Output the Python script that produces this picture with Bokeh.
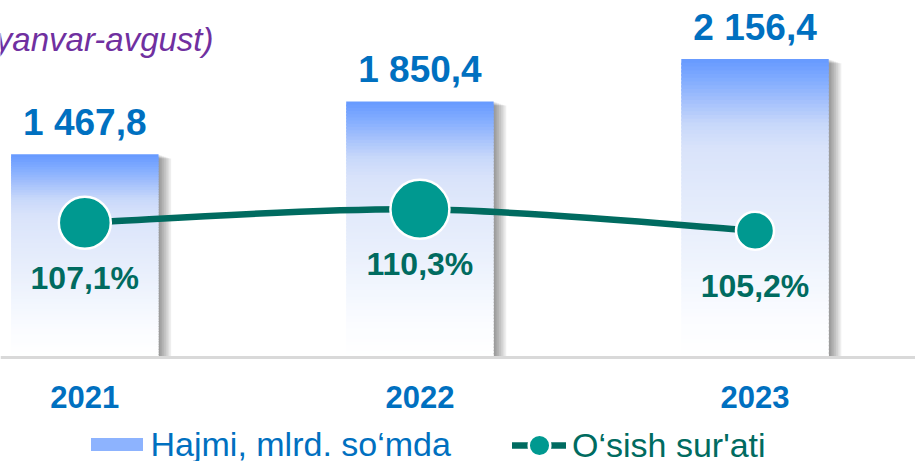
import numpy as np
from bokeh.plotting import figure
from bokeh.models import Range1d, ColumnDataSource, Span, Label, Legend, LegendItem
from bokeh.core.properties import value
from bokeh.embed import file_html
from bokeh.resources import INLINE

# ---------------- data ----------------
years = ["2021", "2022", "2023"]
volume = [1467.8, 1850.4, 2156.4]      # Hajmi, mlrd. so'mda
growth = [107.1, 110.3, 105.2]         # O'sish sur'ati, %
title_text = "(yanvar-avgust)"
legend_volume = "Hajmi, mlrd. so‘mda"
legend_growth = "O‘sish sur'ati"

# ---------------- style ----------------
FONT = "Liberation Sans"
BLUE = "#0070C0"
TEAL_DARK = "#006B60"
TEAL = "#009990"
PURPLE = "#7030A0"

W, H = 915, 461
X0, X1 = -0.2516, 2.4789
Y0, Y1 = -751.4, 2579.5
P0, P1 = 50.27, 160.03
px_x = W / (X1 - X0)
px_y = H / (Y1 - Y0)
BAR_W = 0.44
marker_sizes = [52, 59, 38]

xs = list(range(len(years)))

p = figure(width=W, height=H, x_range=Range1d(X0, X1), y_range=Range1d(Y0, Y1),
           output_backend="svg", toolbar_location=None, min_border=0,
           x_axis_location=None, y_axis_location=None, outline_line_color=None,
           background_fill_color="white", border_fill_color="white")
p.grid.visible = False
p.extra_y_ranges = {"pct": Range1d(P0, P1)}

# shadows (layered offsets to the right)
sh_x, sh_top = [], []
for k in range(1, 8):
    for x, v in zip(xs, volume):
        sh_x.append(x + k * 1.8 / px_x)
        sh_top.append(v - k * 0.6 / px_y)
p.vbar(x=sh_x, top=sh_top, bottom=0, width=BAR_W, fill_color="black",
       fill_alpha=0.065, line_color=None)

# gradient bars (slices)
stops_f = [0, .06, .14, .22, .30, .45, .60, .75, .87, 1.0]
stops_c = [(102, 153, 255), (125, 169, 255), (163, 192, 252), (200, 216, 250),
           (217, 227, 250), (226, 234, 251), (234, 240, 252), (243, 247, 254),
           (251, 252, 255), (255, 255, 255)]
N = 80
gx, gtop, gbot, gcol = [], [], [], []
for x, v in zip(xs, volume):
    for i in range(N):
        f0, f1 = i / N, (i + 1) / N
        fm = (f0 + f1) / 2
        rgb = [int(round(np.interp(fm, stops_f, [c[j] for c in stops_c]))) for j in range(3)]
        gx.append(x)
        gtop.append(v * (1 - f0))
        gbot.append(max(0.0, v * (1 - f1) - v / N * 0.6))
        gcol.append("#%02x%02x%02x" % tuple(rgb))
gsrc = ColumnDataSource(dict(x=gx, top=gtop, bottom=gbot, color=gcol))
bars = p.vbar(x="x", top="top", bottom="bottom", width=BAR_W, fill_color="color",
              line_color=None, source=gsrc)

p.add_layout(Span(location=0, dimension="width", line_color="#D9D9D9", line_width=3))

# smooth growth line (Catmull-Rom -> cubic Bezier)
P = np.array([[x, g] for x, g in zip(xs, growth)], dtype=float)
n = len(P)
T = np.array([(P[min(i + 1, n - 1)] - P[max(i - 1, 0)]) / 2 for i in range(n)])
line_r = p.bezier(x0=P[:-1, 0], y0=P[:-1, 1], x1=P[1:, 0], y1=P[1:, 1],
                  cx0=P[:-1, 0] + T[:-1, 0] / 3, cy0=P[:-1, 1] + T[:-1, 1] / 3,
                  cx1=P[1:, 0] - T[1:, 0] / 3, cy1=P[1:, 1] - T[1:, 1] / 3,
                  line_color=TEAL_DARK, line_width=6.5, line_cap="round",
                  y_range_name="pct")

msrc = ColumnDataSource(dict(x=xs, y=growth, size=marker_sizes))
pts = p.scatter("x", "y", size="size", source=msrc, fill_color=TEAL,
                line_color="white", line_width=2.5, y_range_name="pct")

# labels
vlabels = [f"{v:,.1f}".replace(",", " ").replace(".", ",") for v in volume]
p.text(x=xs, y=volume, text=vlabels, text_font=value(FONT), text_font_style="bold",
       text_font_size="37px", text_color=BLUE, text_align="center",
       text_baseline="alphabetic", y_offset=-32)

p.text(x=xs, y=0, text=years, text_font=value(FONT), text_font_style="bold",
       text_font_size="31px", text_color=BLUE, text_align="center",
       text_baseline="alphabetic", y_offset=39)

plabels = [f"{g:.1f}%".replace(".", ",") for g in growth]
p.text(x=xs, y=growth, text=plabels, text_font=value(FONT), text_font_style="bold",
       text_font_size="32px", text_color=TEAL_DARK, text_align="center",
       text_baseline="alphabetic", y_offset=55, y_range_name="pct")

p.add_layout(Label(x=213, y=H - 39.3, x_units="screen", y_units="screen",
                   text=title_text, text_align="right", text_baseline="alphabetic",
                   text_font=FONT, text_font_style="italic", text_font_size="33px",
                   text_color=PURPLE))

common = dict(orientation="horizontal", padding=0, margin=0, spacing=0,
              border_line_color=None, background_fill_alpha=0,
              label_text_font=FONT, label_text_font_size="34px", label_height=42)
leg1 = Legend(items=[LegendItem(label=legend_volume, renderers=[bars], index=7)],
              location=(83.5, -4), glyph_width=65, glyph_height=16,
              label_standoff=2, label_text_color=BLUE, **common)
leg2 = Legend(items=[LegendItem(label=legend_growth, renderers=[line_r, pts])],
              location=(512, -14), glyph_width=54, glyph_height=60,
              label_standoff=6, label_text_color=TEAL_DARK, **common)
p.add_layout(leg1)
p.add_layout(leg2)

open("out.html", "w").write(file_html(p, INLINE))
